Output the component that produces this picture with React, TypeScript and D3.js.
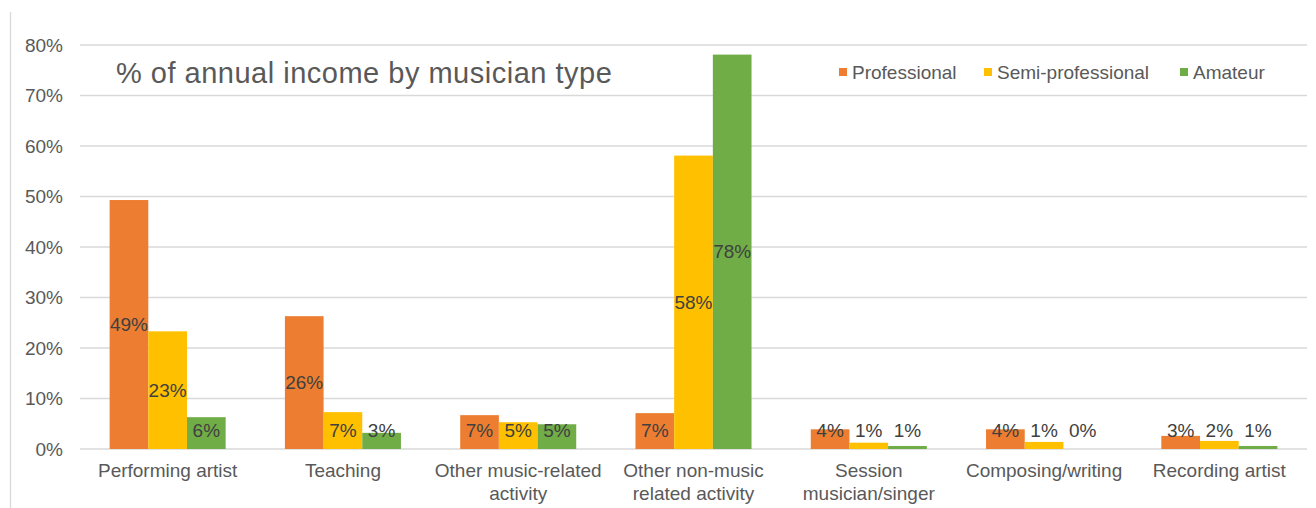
import React, { useEffect, useRef } from "react";
import * as d3 from "d3";

const categories = [
  "Performing artist",
  "Teaching",
  "Other music-related\nactivity",
  "Other non-music\nrelated activity",
  "Session\nmusician/singer",
  "Composing/writing",
  "Recording artist",
];
const seriesNames = ["Professional", "Semi-professional", "Amateur"];
const professional = [0.493, 0.263, 0.067, 0.071, 0.039, 0.039, 0.026];
const semiProfessional = [0.233, 0.073, 0.053, 0.581, 0.0125, 0.014, 0.016];
const amateur = [0.063, 0.032, 0.049, 0.781, 0.006, 0.0, 0.006];
const yTicks = [0, 0.1, 0.2, 0.3, 0.4, 0.5, 0.6, 0.7, 0.8];
const colors = ["#ED7D31", "#FFC000", "#70AD47"];

const App: React.FC = () => {
  const ref = useRef<SVGSVGElement>(null);

  useEffect(() => {
    if (!ref.current) return;
    const svg = d3.select(ref.current);
    svg.selectAll("*").remove();

    const width = 1316;
    const height = 508;
    const font = "'Liberation Sans', Arial, sans-serif";
    svg.attr("width", width).attr("height", height).style("font-family", font);

    const left = 80, right = 1307, top = 45, bottom = 449;
    const series = [professional, semiProfessional, amateur];

    const x0 = d3.scaleBand().domain(categories).range([left, right]).paddingInner(0.338).paddingOuter(0.169);
    const x1 = d3.scaleBand().domain(seriesNames).range([0, x0.bandwidth()]);
    const y = d3.scaleLinear().domain([0, 0.8]).range([bottom, top]);
    const fmt = d3.format(".0%");

    // chart frame edge
    svg.append("line")
      .attr("x1", 10.5).attr("x2", 10.5).attr("y1", 12).attr("y2", height)
      .attr("stroke", "#d9d9d9").attr("stroke-width", 1.3);

    // gridlines
    svg.append("g").selectAll("line").data(yTicks).enter().append("line")
      .attr("x1", left).attr("x2", right)
      .attr("y1", (d) => y(d)).attr("y2", (d) => y(d))
      .attr("stroke", "#d9d9d9").attr("stroke-width", 1.3);

    // y tick labels
    svg.append("g").selectAll("text").data(yTicks).enter().append("text")
      .attr("x", 63).attr("y", (d) => y(d))
      .attr("text-anchor", "end").attr("dominant-baseline", "central")
      .attr("font-size", 19).attr("fill", "#595959")
      .text((d) => fmt(d));

    // bars
    const groups = svg.append("g").selectAll("g").data(categories).enter().append("g")
      .attr("transform", (c) => `translate(${x0(c)},0)`);

    groups.selectAll("rect")
      .data((c, i) => series.map((s, k) => ({ name: seriesNames[k], v: s[i], k })))
      .enter().append("rect")
      .attr("x", (d) => x1(d.name) ?? 0)
      .attr("width", x1.bandwidth())
      .attr("y", (d) => y(d.v))
      .attr("height", (d) => bottom - y(d.v))
      .attr("fill", (d) => colors[d.k]);

    groups.selectAll("text")
      .data((c, i) => series.map((s, k) => ({ name: seriesNames[k], v: s[i], k })))
      .enter().append("text")
      .attr("x", (d) => (x1(d.name) ?? 0) + x1.bandwidth() / 2)
      .attr("y", (d) => Math.min((y(d.v) + bottom) / 2, bottom - 19))
      .attr("text-anchor", "middle").attr("dominant-baseline", "central")
      .attr("font-size", 19).attr("fill", "#404040")
      .text((d) => fmt(d.v));

    // category labels
    const catLabels = svg.append("g").selectAll("text").data(categories).enter().append("text")
      .attr("x", (c) => (x0(c) ?? 0) + x0.bandwidth() / 2)
      .attr("y", 477)
      .attr("text-anchor", "middle")
      .attr("font-size", 19).attr("fill", "#595959");
    catLabels.selectAll("tspan")
      .data((c) => c.split("\n"))
      .enter().append("tspan")
      .attr("x", function () {
        return (this.parentNode as SVGTextElement).getAttribute("x");
      })
      .attr("dy", (d, i) => (i === 0 ? 0 : 22.5))
      .text((d) => d);

    // title
    svg.append("text")
      .attr("x", 116).attr("y", 83)
      .attr("font-size", 29).attr("fill", "#595959")
      .attr("letter-spacing", 0.5)
      .text("% of annual income by musician type");

    // legend
    const legendX = [839, 984, 1180];
    const legend = svg.append("g").selectAll("g").data(seriesNames).enter().append("g")
      .attr("transform", (d, i) => `translate(${legendX[i]},72)`);
    legend.append("rect")
      .attr("x", 0).attr("y", -4).attr("width", 8).attr("height", 8)
      .attr("fill", (d, i) => colors[i]);
    legend.append("text")
      .attr("x", 13).attr("y", 0)
      .attr("dominant-baseline", "central")
      .attr("font-size", 19).attr("fill", "#595959")
      .text((d) => d);
  }, []);

  return (
    <div style={{ position: "absolute", left: 0, top: 0 }}>
      <svg ref={ref}></svg>
    </div>
  );
};

export default App;
